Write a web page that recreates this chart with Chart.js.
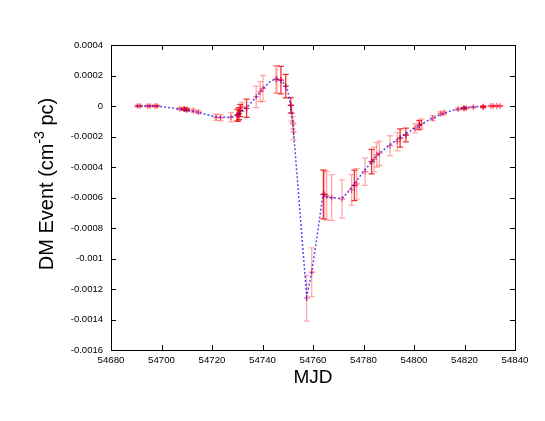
<!DOCTYPE html>
<html>
<head>
<meta charset="utf-8">
<script src="https://cdn.jsdelivr.net/npm/chart.js@4.4.1/dist/chart.umd.min.js"></script>
<style>
  body { margin: 0; background: #fff; }
  canvas { display: block; }
</style>
</head>
<body>
<canvas id="dm-event-chart" width="545" height="421"></canvas>
<script>
// pale points (mjd, DM, error)
var paleMjd = [54690.5, 54691.5, 54694.5, 54695.5, 54697.5, 54698.3, 54707.3, 54712.6, 54714.6,
  54721.6, 54723.4, 54727.5, 54729.8, 54731.9, 54737.5, 54739.1, 54740.2, 54745.3, 54745.7,
  54751.6, 54752.0, 54752.3, 54757.5, 54759.5, 54764.6, 54765.4, 54767.4, 54771.5, 54775.3,
  54777.3, 54780.6, 54784.2, 54785.2, 54786.3, 54790.5, 54793.4, 54800.4, 54803.0, 54807.4,
  54810.5, 54811.9, 54817.5, 54820.6, 54823.5, 54830.4, 54831.4, 54832.8, 54834.1];
var paleDm = [0, 0, 0, 0, 0, 0, -0.000018, -0.00003, -0.00004,
  -0.000074, -0.000077, -0.000074, -0.00006, -0.000005, 0.00006, 0.000094, 0.000115, 0.000175, 0.000175,
  -0.000048, -0.00011, -0.00017, -0.00126, -0.00109, -0.00058, -0.00059, -0.0006, -0.00061, -0.00055,
  -0.00051, -0.00043, -0.00035, -0.00032, -0.00031, -0.00026, -0.000234, -0.000146, -0.000115, -0.00008,
  -0.00005, -0.000045, -0.00002, -0.000013, -0.000008, 0, 0, 0, 0];
var paleErr = [0.000005, 0.000005, 0.000005, 0.000005, 0.000005, 0.000005, 0.000008, 0.00001, 0.00001,
  0.00002, 0.00002, 0.00003, 0.000036, 0.00003, 0.00007, 0.000066, 0.000085, 0.00009, 0.00009,
  0.00005, 0.00004, 0.00005, 0.00015, 0.00016, 0.00016, 0.00016, 0.00015, 0.000125, 0.0001,
  0.0001, 0.00009, 0.00008, 0.00008, 0.00008, 0.000065, 0.00006, 0.00003, 0.00003, 0.000015,
  0.000012, 0.000012, 0.000008, 0.000006, 0.000005, 0.000004, 0.000004, 0.000004, 0.000004];

// darker points
var darkMjd = [54709, 54710, 54730.2, 54730.7, 54731.2, 54733.7, 54747.3, 54749.2, 54751.2,
  54764.1, 54776.4, 54783.2, 54794.5, 54796.8, 54802.1, 54819.8, 54827.4];
var darkDm = [-0.00002, -0.000024, -0.00006, -0.00005, -0.00003, -0.000015, 0.00017, 0.00013, 0.000005,
  -0.00058, -0.00052, -0.000365, -0.00021, -0.00019, -0.000125, -0.000015, -0.000005];
var darkErr = [0.000008, 0.000008, 0.00004, 0.00004, 0.00004, 0.00006, 0.00009, 0.000077, 0.00005,
  0.00016, 0.0001, 0.00008, 0.00006, 0.000045, 0.00003, 0.000006, 0.000005];

// model curve
var modelMjd = [54690, 54698, 54707, 54714, 54721, 54727, 54730, 54732, 54734, 54737, 54740, 54743,
  54745.5, 54748, 54750, 54751.5, 54752.3, 54757.5, 54759.5, 54764, 54766, 54770, 54772, 54776,
  54780, 54785, 54790, 54795, 54800, 54805, 54810, 54815, 54820, 54826];
var modelDm = [0, 0, -0.00002, -0.00004, -0.00007, -0.000075, -0.00006, -0.00003, -0.000005, 0.00005,
  0.00011, 0.00016, 0.00018, 0.00016, 0.0001, -0.00003, -0.00017, -0.00125, -0.00109, -0.00058,
  -0.0006, -0.000605, -0.0006, -0.00052, -0.00043, -0.00033, -0.00026, -0.0002, -0.00015, -0.0001,
  -0.00006, -0.00003, -0.000012, -0.000003];

var xTicks = { min: 54680, max: 54840, step: 20 };
var yTicks = { min: -0.0016, max: 0.0004, step: 0.0002 };

var FONT = "'Liberation Sans', Arial, sans-serif";

function pts(xs, ys) {
  return xs.map((x, i) => ({ x: x, y: ys[i] }));
}

const errorBars = {
  id: "errorBars",
  beforeDatasetsDraw(chart) {
    const ctx = chart.ctx, xs = chart.scales.x, ys = chart.scales.y;
    ctx.save();
    chart.data.datasets.forEach((ds) => {
      if (!ds.errors) return;
      ctx.strokeStyle = ds.errColor;
      ctx.lineWidth = 1.3;
      ds.data.forEach((p, i) => {
        const px = xs.getPixelForValue(p.x);
        const top = ys.getPixelForValue(p.y + ds.errors[i]);
        const bot = ys.getPixelForValue(p.y - ds.errors[i]);
        ctx.beginPath();
        ctx.moveTo(px, top);
        ctx.lineTo(px, bot);
        ctx.moveTo(px - 3, top);
        ctx.lineTo(px + 3, top);
        ctx.moveTo(px - 3, bot);
        ctx.lineTo(px + 3, bot);
        ctx.stroke();
      });
    });
    ctx.restore();
  },
};

const frame = {
  id: "frame",
  afterDraw(chart) {
    const ctx = chart.ctx, a = chart.chartArea;
    const xs = chart.scales.x, ys = chart.scales.y;
    ctx.save();
    ctx.strokeStyle = "#000";
    ctx.lineWidth = 1;
    ctx.beginPath();
    for (let v = xTicks.min; v <= xTicks.max; v += xTicks.step) {
      const px = Math.round(xs.getPixelForValue(v)) + 0.5;
      ctx.moveTo(px, a.bottom); ctx.lineTo(px, a.bottom - 5);
      ctx.moveTo(px, a.top); ctx.lineTo(px, a.top + 5);
    }
    for (let i = 0; i <= 10; i++) {
      const py = Math.round(ys.getPixelForValue(yTicks.min + i * yTicks.step)) + 0.5;
      ctx.moveTo(a.left, py); ctx.lineTo(a.left + 5, py);
      ctx.moveTo(a.right, py); ctx.lineTo(a.right - 5, py);
    }
    ctx.stroke();
    ctx.strokeRect(Math.round(a.left) + 0.5, Math.round(a.top) + 0.5,
      Math.round(a.right - a.left), Math.round(a.bottom - a.top));

    // axis titles
    ctx.fillStyle = "#000";
    ctx.font = "19px " + FONT;
    ctx.textAlign = "center";
    ctx.textBaseline = "alphabetic";
    ctx.fillText("MJD", (a.left + a.right) / 2, 383);

    ctx.translate(53, 184);
    ctx.rotate(-Math.PI / 2);
    const big = "20px " + FONT, small = "14px " + FONT;
    ctx.font = big;
    const w1 = ctx.measureText("DM Event (cm").width;
    const w3 = ctx.measureText(" pc)").width;
    ctx.font = small;
    const w2 = ctx.measureText("-3").width;
    let x0 = -(w1 + w2 + w3) / 2;
    ctx.textAlign = "left";
    ctx.font = big;
    ctx.fillText("DM Event (cm", x0, 0);
    ctx.font = small;
    ctx.fillText("-3", x0 + w1, -9);
    ctx.font = big;
    ctx.fillText(" pc)", x0 + w1 + w2, 0);
    ctx.restore();
  },
};

new Chart(document.getElementById("dm-event-chart"), {
  type: "scatter",
  data: {
    datasets: [
      {
        type: "line",
        data: pts(modelMjd, modelDm),
        borderColor: "rgba(20, 20, 255, 0.75)",
        borderWidth: 1.5,
        borderDash: [2, 2],
        pointRadius: 0,
        fill: false,
        tension: 0,
        order: 0,
      },
      {
        data: pts(darkMjd, darkDm),
        errors: darkErr,
        errColor: "rgba(235, 0, 0, 0.8)",
        pointStyle: "cross",
        pointRadius: 3,
        borderColor: "rgba(230, 0, 30, 0.9)",
        borderWidth: 1.3,
        order: 1,
      },
      {
        data: pts(paleMjd, paleDm),
        errors: paleErr,
        errColor: "rgba(255, 40, 40, 0.4)",
        pointStyle: "cross",
        pointRadius: 3,
        borderColor: "rgba(255, 0, 40, 0.55)",
        borderWidth: 1.3,
        order: 2,
      },
    ],
  },
  options: {
    responsive: false,
    animation: false,
    layout: { padding: { top: 45, right: 30, left: 0, bottom: 0 } },
    plugins: { legend: { display: false }, tooltip: { enabled: false } },
    scales: {
      x: {
        type: "linear",
        min: xTicks.min,
        max: xTicks.max,
        grid: { display: false, drawTicks: false },
        border: { display: false },
        ticks: {
          stepSize: xTicks.step,
          padding: 5,
          color: "#000",
          font: { family: FONT, size: 9.7 },
          maxRotation: 0,
          callback: (v) => String(v),
        },
        afterFit: (s) => { s.height = 71; },
      },
      y: {
        min: yTicks.min,
        max: yTicks.max,
        grid: { display: false, drawTicks: false },
        border: { display: false },
        ticks: {
          stepSize: yTicks.step,
          padding: 8,
          color: "#000",
          font: { family: FONT, size: 9.5 },
          callback: (v) => String(Number(v.toFixed(4))),
        },
        afterFit: (s) => { s.width = 111; },
      },
    },
  },
  plugins: [errorBars, frame],
});
</script>
</body>
</html>
